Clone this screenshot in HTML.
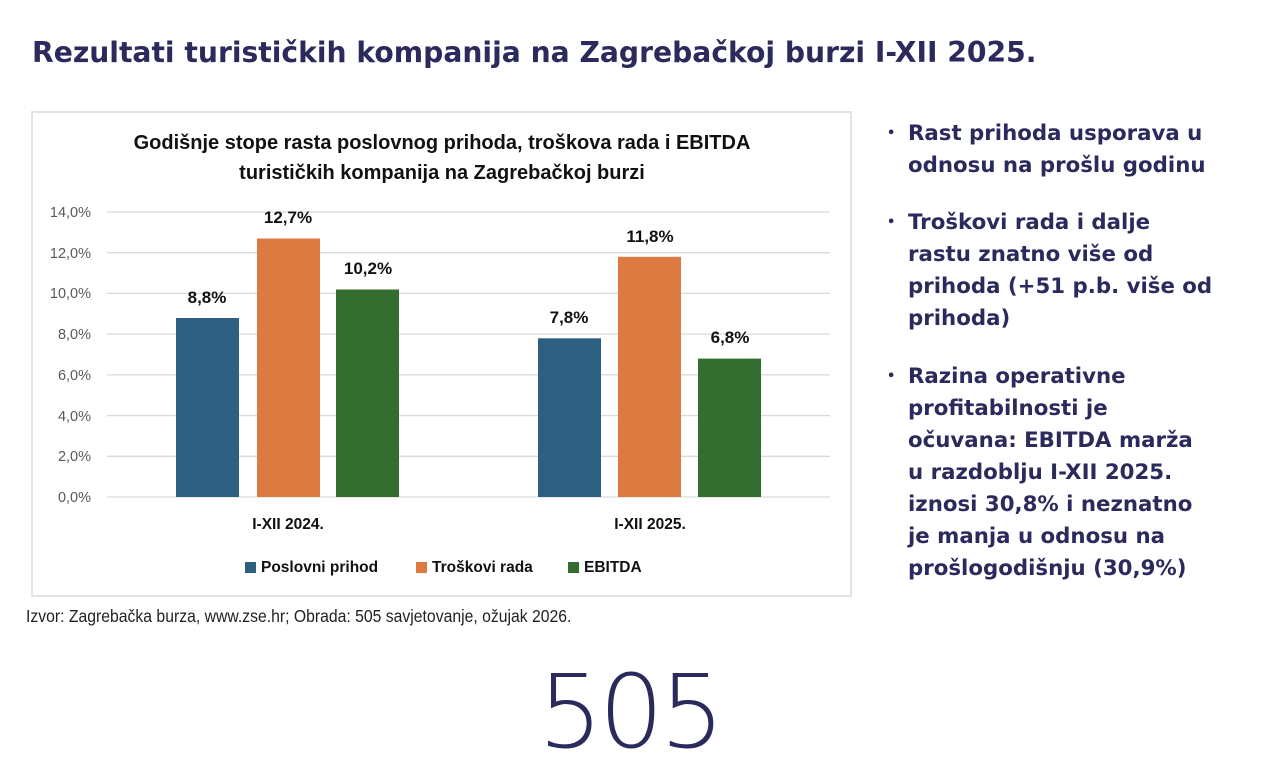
<!DOCTYPE html>
<html><head><meta charset="utf-8"><style>
body{margin:0;width:1280px;height:711px;background:#fff;position:relative;overflow:hidden;font-family:"Liberation Sans",sans-serif}
.t{position:absolute;left:32px;top:36px;font-size:28.2px;font-weight:bold;color:#2a2a5c;font-family:"DejaVu Sans",sans-serif;white-space:nowrap}
.box{position:absolute;left:31px;top:111px;width:821px;height:486px;border:2px solid #e3e3e3;box-sizing:border-box}
.src{position:absolute;left:26px;top:606px;font-size:17.5px;color:#222;transform:scaleX(0.9);transform-origin:left}
.b{position:absolute;left:888px;font-size:21.3px;font-weight:bold;color:#2a2a5c;line-height:32px;width:380px;font-family:"DejaVu Sans",sans-serif;white-space:nowrap}
.b span{position:absolute;left:-1px;font-size:13px}
.b div{margin-left:20px}
.logo{position:absolute;left:538px;top:653px;font-size:102px;line-height:120px;color:#2a2a5c;letter-spacing:-4px;font-family:"DejaVu Sans",sans-serif;font-weight:200}
</style></head><body>
<div class="t">Rezultati turističkih kompanija na Zagrebačkoj burzi I-XII 2025.</div>
<div class="box"></div>
<svg style="position:absolute;left:0;top:0" width="860" height="600" font-family="Liberation Sans, sans-serif">
<text x="442" y="149" text-anchor="middle" font-size="20" font-weight="bold" fill="#111">Godišnje stope rasta poslovnog prihoda, troškova rada i EBITDA</text>
<text x="442" y="179" text-anchor="middle" font-size="20" font-weight="bold" fill="#111">turističkih kompanija na Zagrebačkoj burzi</text>
<g stroke="#d9d9d9" stroke-width="1.3">
<line x1="107" x2="830" y1="212" y2="212"/><line x1="107" x2="830" y1="252.7" y2="252.7"/><line x1="107" x2="830" y1="293.4" y2="293.4"/><line x1="107" x2="830" y1="334.1" y2="334.1"/><line x1="107" x2="830" y1="374.9" y2="374.9"/><line x1="107" x2="830" y1="415.6" y2="415.6"/><line x1="107" x2="830" y1="456.3" y2="456.3"/><line x1="107" x2="830" y1="497" y2="497"/>
</g>
<g font-size="14.5" fill="#595959" text-anchor="end">
<text x="91" y="217">14,0%</text><text x="91" y="258">12,0%</text><text x="91" y="298">10,0%</text><text x="91" y="339">8,0%</text><text x="91" y="380">6,0%</text><text x="91" y="421">4,0%</text><text x="91" y="461">2,0%</text><text x="91" y="502">0,0%</text>
</g>
<rect x="176" y="318" width="63" height="179" fill="#2e5f80"/>
<rect x="257" y="238.5" width="63" height="258.5" fill="#dc7a41"/>
<rect x="336" y="289.5" width="63" height="207.5" fill="#346d2f"/>
<rect x="538" y="338.3" width="63" height="158.7" fill="#2e5f80"/>
<rect x="618" y="256.8" width="63" height="240.2" fill="#dc7a41"/>
<rect x="698" y="358.6" width="63" height="138.4" fill="#346d2f"/>
<g font-size="17" font-weight="bold" fill="#111" text-anchor="middle">
<text x="207" y="303">8,8%</text><text x="288" y="223">12,7%</text><text x="368" y="274">10,2%</text>
<text x="569" y="323">7,8%</text><text x="650" y="242">11,8%</text><text x="730" y="343">6,8%</text>
</g>
<g font-size="15.5" font-weight="bold" fill="#111">
<text x="288" y="529" text-anchor="middle">I-XII 2024.</text>
<text x="650" y="529" text-anchor="middle">I-XII 2025.</text>
<rect x="245" y="562" width="11" height="11" fill="#2e5f80"/><text x="261" y="572">Poslovni prihod</text>
<rect x="416" y="562" width="11" height="11" fill="#dc7a41"/><text x="432" y="572">Troškovi rada</text>
<rect x="568" y="562" width="11" height="11" fill="#346d2f"/><text x="584" y="572">EBITDA</text>
</g>
</svg>
<div class="src">Izvor: Zagrebačka burza, www.zse.hr; Obrada: 505 savjetovanje, ožujak 2026.</div>
<div class="b" style="top:118px"><span>•</span><div>Rast prihoda usporava u<br>odnosu na prošlu godinu</div></div>
<div class="b" style="top:207px"><span>•</span><div>Troškovi rada i dalje<br>rastu znatno više od<br>prihoda (+51 p.b. više od<br>prihoda)</div></div>
<div class="b" style="top:361px"><span>•</span><div>Razina operativne<br>profitabilnosti je<br>očuvana: EBITDA marža<br>u razdoblju I-XII 2025.<br>iznosi 30,8% i neznatno<br>je manja u odnosu na<br>prošlogodišnju (30,9%)</div></div>
<div class="logo">505</div>
</body></html>
